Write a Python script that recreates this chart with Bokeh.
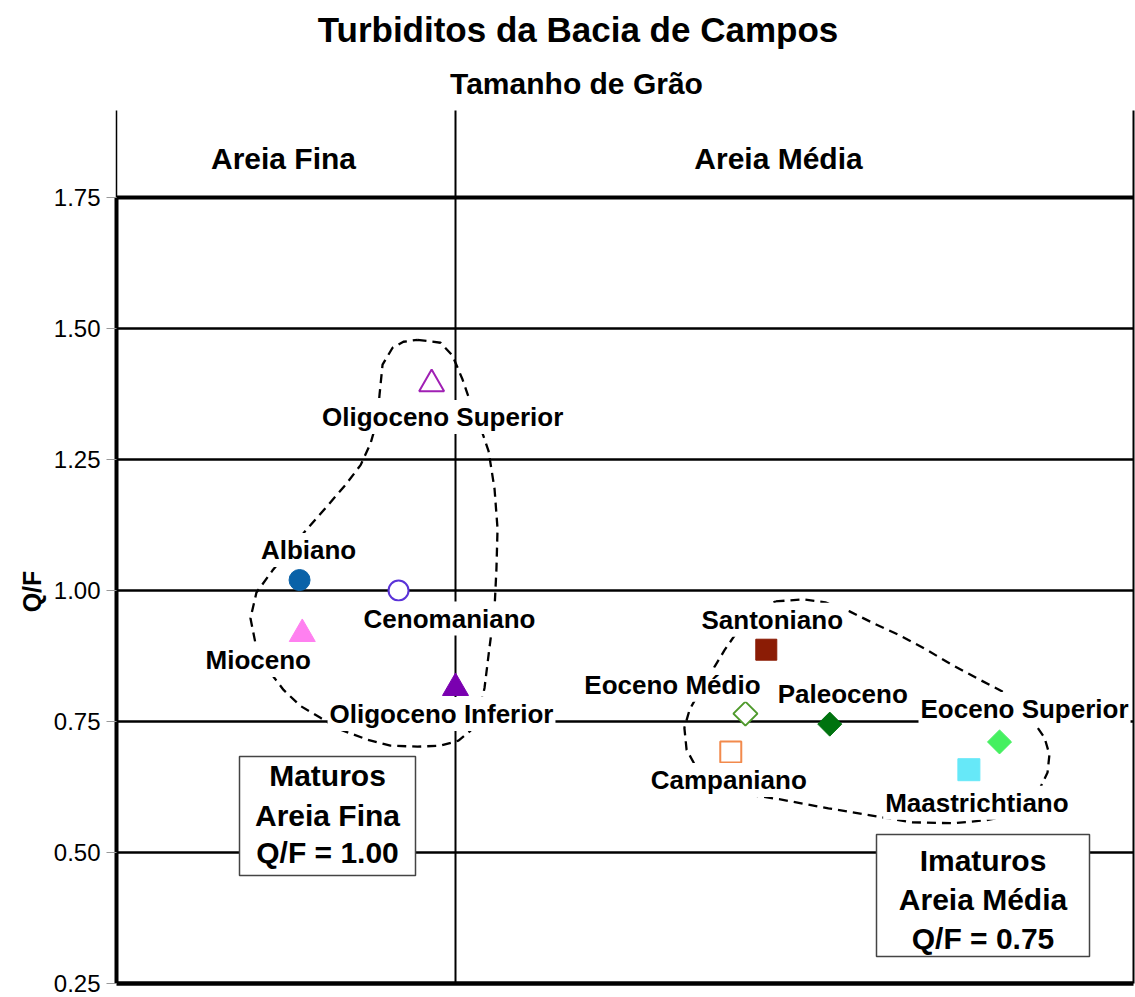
import numpy as np
from bokeh.plotting import figure
from bokeh.models import (Range1d, FixedTicker, Label, BoxAnnotation,
                          ColumnDataSource, PrintfTickFormatter)
from bokeh.embed import file_html
from bokeh.resources import INLINE

# ---------------- data ----------------
units = ["Albiano", "Cenomaniano", "Mioceno", "Oligoceno Superior",
         "Oligoceno Inferior", "Santoniano", "Eoceno Médio", "Paleoceno",
         "Campaniano", "Eoceno Superior", "Maastrichtiano"]
grain_mm = [0.1925, 0.229, 0.1935, 0.2412, 0.250, 0.3646, 0.3569, 0.388,
            0.3515, 0.4506, 0.4393]
qf = [1.020, 1.000, 0.917, 1.394, 0.814, 0.887, 0.765, 0.745, 0.692, 0.711, 0.658]

qf_ticks = [0.25, 0.50, 0.75, 1.00, 1.25, 1.50, 1.75]
grain_bounds = [0.125, 0.25, 0.5]          # areia fina | areia média
class_names = ["Areia Fina", "Areia Média"]

# dashed outlines of the two groups (data units)
fina_x = [0.2360, 0.2445, 0.2489, 0.2526, 0.2555, 0.2592, 0.2622, 0.2644, 0.2655,
          0.2651, 0.2644, 0.2625, 0.2607, 0.2585, 0.2555, 0.2511, 0.2445, 0.2360,
          0.2260, 0.2176, 0.2076, 0.2002, 0.1928, 0.1866, 0.1810, 0.1766, 0.1744,
          0.1766, 0.1825, 0.1892, 0.1947, 0.2021, 0.2094, 0.2150, 0.2187, 0.2212,
          0.2220, 0.2231, 0.2268, 0.2308, 0.2360]
fina_y = [1.4785, 1.4728, 1.4481, 1.4026, 1.3589, 1.3114, 1.2659, 1.1937, 1.1178,
          1.0418, 0.9659, 0.8899, 0.8140, 0.7608, 0.7323, 0.7134, 0.7039, 0.7020,
          0.7039, 0.7153, 0.7342, 0.7570, 0.7798, 0.8102, 0.8482, 0.8899, 0.9469,
          0.9962, 1.0380, 1.0798, 1.1140, 1.1576, 1.2013, 1.2393, 1.2810, 1.3266,
          1.3741, 1.4310, 1.4633, 1.4747, 1.4785]
media_x = [0.3680, 0.3783, 0.3864, 0.3953, 0.4049, 0.4137, 0.4233, 0.4333, 0.4428,
           0.4513, 0.4583, 0.4631, 0.4672, 0.4690, 0.4683, 0.4653, 0.4602, 0.4528,
           0.4454, 0.4336, 0.4178, 0.4030, 0.3875, 0.3698, 0.3551, 0.3459, 0.3392,
           0.3352, 0.3344, 0.3363, 0.3403, 0.3448, 0.3492, 0.3540, 0.3595, 0.3680]
media_y = [0.9792, 0.9830, 0.9773, 0.9602, 0.9355, 0.9146, 0.8880, 0.8576, 0.8311,
           0.8083, 0.7798, 0.7494, 0.7190, 0.6868, 0.6526, 0.6203, 0.5899, 0.5691,
           0.5615, 0.5558, 0.5577, 0.5710, 0.5842, 0.6013, 0.6127, 0.6298, 0.6583,
           0.6963, 0.7380, 0.7722, 0.8102, 0.8482, 0.8861, 0.9222, 0.9545, 0.9792]

# ---------------- styles ----------------
mk = ["circle", "circle", "triangle", "triangle", "triangle", "square",
      "square", "square", "square", "square", "square"]
edge = ["#0a62a8", "#5a32d8", "#ff80f0", "#a020b4", "#7a00b0", "#8b1c05",
        "#4f9a2c", "#00730f", "#f28a4c", "#45f060", "#66e8f8"]
face = ["#0a62a8", "white", "#ff80f0", "white", "#7a00b0", "#8b1c05",
        "white", "#00730f", "white", "#45f060", "#66e8f8"]
msize = [21, 20, 26, 25, 26, 21, 17, 17, 21, 17, 22]
mangle = [0, 0, 0, 0, 0, 0, np.pi / 4, np.pi / 4, 0, np.pi / 4, 0]
mlw = [1, 2, 1, 2, 1, 1, 2, 1, 2, 1, 1]
# label offsets (screen px, y up)
lab_dx = [9, 51, -44, 11, -14, 6, -73, 13, -2, 25, 8]
lab_dy = [30, -28, -26, -33, -26, 30, 29, 30, -28, 33, -33]

FONT = "Liberation Sans"

# ---------------- layout (page px -> data) ----------------
W, H = 1135, 997
KX = (1133 - 116) / (grain_bounds[2] - grain_bounds[0])
KY = (983 - 197) / (qf_ticks[-1] - qf_ticks[0])


def X(px):
    return grain_bounds[0] + (px - 116) / KX


def Y(py):
    return qf_ticks[-1] - (py - 197) / KY


p = figure(width=W, height=H, output_backend="svg", toolbar_location=None,
           x_range=Range1d(X(0), X(W)), y_range=Range1d(Y(H), Y(0)),
           x_axis_location=None, y_axis_location="left",
           min_border_left=0, min_border_right=0,
           min_border_top=0, min_border_bottom=0)
p.title.text = ""
p.outline_line_color = None
p.xgrid.visible = False
p.ygrid.visible = False
p.background_fill_color = "white"
p.border_fill_color = "white"

ax = p.yaxis[0]
ax.fixed_location = grain_bounds[0]
ax.ticker = FixedTicker(ticks=qf_ticks)
ax.formatter = PrintfTickFormatter(format="%.2f")
ax.axis_line_color = None
ax.major_tick_out = 10
ax.major_tick_in = 0
ax.major_tick_line_color = "#999999"
ax.minor_tick_line_color = None
ax.major_label_standoff = 6
ax.major_label_text_font = FONT
ax.major_label_text_font_size = "24px"
ax.major_label_text_color = "black"

top = Y(110)
# horizontal grid lines
inner = qf_ticks[1:-1]
p.segment(x0=[grain_bounds[0]] * len(inner), x1=[grain_bounds[2]] * len(inner),
          y0=inner, y1=inner, line_color="black", line_width=2.3)
p.segment(x0=[grain_bounds[0]], x1=[grain_bounds[2]], y0=[qf_ticks[-1]], y1=[qf_ticks[-1]],
          line_color="black", line_width=4)
p.segment(x0=[grain_bounds[0]], x1=[grain_bounds[2]], y0=[qf_ticks[0]], y1=[qf_ticks[0]],
          line_color="black", line_width=4.5)
# vertical lines
p.segment(x0=[grain_bounds[0]], x1=[grain_bounds[0]], y0=[qf_ticks[0]], y1=[qf_ticks[-1]],
          line_color="black", line_width=4)
p.segment(x0=[grain_bounds[0]], x1=[grain_bounds[0]], y0=[qf_ticks[-1]], y1=[top],
          line_color="black", line_width=1.5)
p.segment(x0=grain_bounds[1:], x1=grain_bounds[1:], y0=[qf_ticks[0]] * 2, y1=[top] * 2,
          line_color="black", line_width=2)

# dashed outlines
p.line(fina_x, fina_y, line_color="black", line_width=2.3, line_dash="9 6")
p.line(media_x, media_y, line_color="black", line_width=2.3, line_dash="9 6")

src = ColumnDataSource(dict(x=grain_mm, y=qf, marker=mk, fc=face, lc=edge,
                            size=msize, angle=mangle, lw=mlw))
p.scatter(x="x", y="y", marker="marker", size="size", angle="angle",
          fill_color="fc", line_color="lc", line_width="lw", source=src)

# point labels
for i, name in enumerate(units):
    p.add_layout(Label(x=grain_mm[i], y=qf[i], x_offset=lab_dx[i], y_offset=lab_dy[i],
                       text=name, text_font=FONT, text_font_style="bold",
                       text_font_size="26px", text_align="center",
                       text_baseline="middle", text_color="black",
                       background_fill_color="white", background_fill_alpha=1.0,
                       padding=2))

# boxes
p.add_layout(BoxAnnotation(left=X(239), right=X(415), top=Y(756), bottom=Y(875),
                           fill_color="white", fill_alpha=1.0,
                           line_color="#444444", line_width=1.5, line_alpha=1.0))
p.add_layout(BoxAnnotation(left=X(876), right=X(1089), top=Y(834), bottom=Y(956),
                           fill_color="white", fill_alpha=1.0,
                           line_color="#444444", line_width=1.5, line_alpha=1.0))


def txt(x, y, s, size, angle=0.0, weight="bold"):
    p.add_layout(Label(x=x, y=y, text=s, text_font=FONT, text_font_style=weight,
                       text_font_size=size, text_align="center",
                       text_baseline="middle", text_color="black", angle=angle))


for s, py in zip(["Maturos", "Areia Fina", "Q/F = 1.00"], [775, 815, 852]):
    txt(X(327), Y(py), s, "30px")
for s, py in zip(["Imaturos", "Areia Média", "Q/F = 0.75"], [860, 899, 938]):
    txt(X(982.5), Y(py), s, "30px")

txt(X(283), Y(157.5), class_names[0], "30px")
txt(X(778), Y(157.5), class_names[1], "30px")
txt(X(577.5), Y(29), "Turbiditos da Bacia de Campos", "35px")
txt(X(576), Y(83), "Tamanho de Grão", "30px")
txt(X(31), Y(591), "Q/F", "25px", angle=np.pi / 2)

open("out.html", "w").write(file_html(p, INLINE))
